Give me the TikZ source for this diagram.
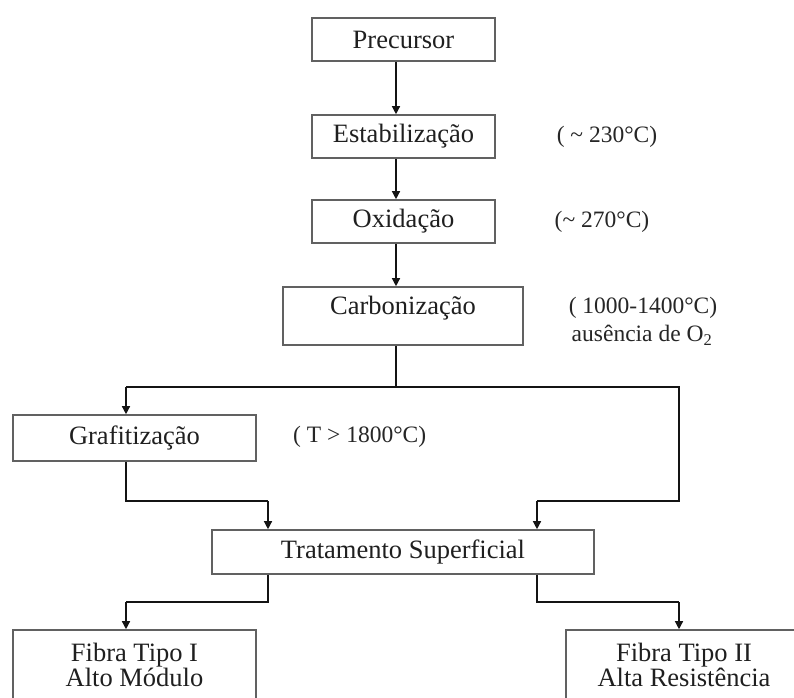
\documentclass[tikz,border=0pt]{standalone}
\usepackage{fontspec}
\setmainfont{Liberation Serif}
\usetikzlibrary{arrows.meta}
\begin{document}
\begin{tikzpicture}[x=1pt,y=-1pt,
  box/.style={draw=black!62, line width=1.6pt, fill=white, inner sep=0pt,
    font=\fontsize{26.5}{25}\selectfont, text=black!88},
  lbl/.style={font=\fontsize{23.5}{26}\selectfont, inner sep=0pt, text=black!85},
  conn/.style={line width=2.6pt, black!92, line join=miter},
  arr/.style={line width=1.3pt, black!92, -{Triangle[length=8pt,width=8pt]}}
]
\useasboundingbox[fill=white] (0,0) rectangle (794,697);
\clip (0,0) rectangle (794,697);

% boxes
\node[box, minimum width=183, minimum height=43] (P) at (403.5,39.5) {Precursor};
\node[box, minimum width=183, minimum height=43] (E) at (403.5,136.5) {Estabilização};
\node[box, minimum width=183, minimum height=43] (O) at (403.5,221.5) {Oxidação};
\node[box, minimum width=240, minimum height=58,
  label={[anchor=center, yshift=8pt, inner sep=0pt, font=\fontsize{26.5}{25}\selectfont, text=black!88]center:Carbonização}] (C) at (403,316) {};
\node[box, minimum width=243, minimum height=46] (G) at (134.5,438) {Grafitização};
\node[box, minimum width=382, minimum height=44] (T) at (403,552) {Tratamento Superficial};
\node[box, minimum width=243, minimum height=90,
  label={[anchor=center, yshift=10.5pt, inner sep=0pt, align=center, font=\fontsize{26.5}{25}\selectfont, text=black!88]center:Fibra Tipo I\\Alto Módulo}] (F1) at (134.5,675) {};
\node[box, minimum width=234, minimum height=90,
  label={[anchor=center, yshift=10.5pt, xshift=1pt, inner sep=0pt, align=center, font=\fontsize{26.5}{25}\selectfont, text=black!88]center:Fibra Tipo II\\Alta Resistência}] (F2) at (683,675) {};

% side labels
\node[lbl] (l1) at (607,137) {( \textasciitilde\ 230°C)};
\node[lbl] (l2) at (602,222) {(\textasciitilde\ 270°C)};
\node[lbl] (l3) at (643,308) {( 1000-1400°C)};
\node[lbl] (l4) at (642,335) {ausência de O\textsubscript{2}};
\node[lbl, anchor=west] (l5) at (293,437) {( T > 1800°C)};

% connectors
\coordinate (ax) at (396,0);
\draw[arr] (ax |- P.south) -- (ax |- E.north);
\draw[arr] (ax |- E.south) -- (ax |- O.north);
\draw[arr] (ax |- O.south) -- (ax |- C.north);

\coordinate (split) at (396,387);
\coordinate (sl) at (126,387);
\coordinate (sr) at (679,387);
\coordinate (jl) at (268,501);
\coordinate (jr) at (537,501);
\coordinate (kl) at (126,602);
\coordinate (kr) at (679,602);

\draw[conn] (ax |- C.south) -- (split);
\draw[conn] (sl) -- (sr) |- (jr);
\draw[arr] (sl) -- (sl |- G.north);
\draw[conn] (sl |- G.south) |- (jl);
\draw[arr] (jl) -- (jl |- T.north);
\draw[arr] (jr) -- (jr |- T.north);
\draw[conn] (jl |- T.south) |- (kl);
\draw[arr] (kl) -- (kl |- F1.north);
\draw[conn] (jr |- T.south) |- (kr);
\draw[arr] (kr) -- (kr |- F2.north);
\end{tikzpicture}
\end{document}
